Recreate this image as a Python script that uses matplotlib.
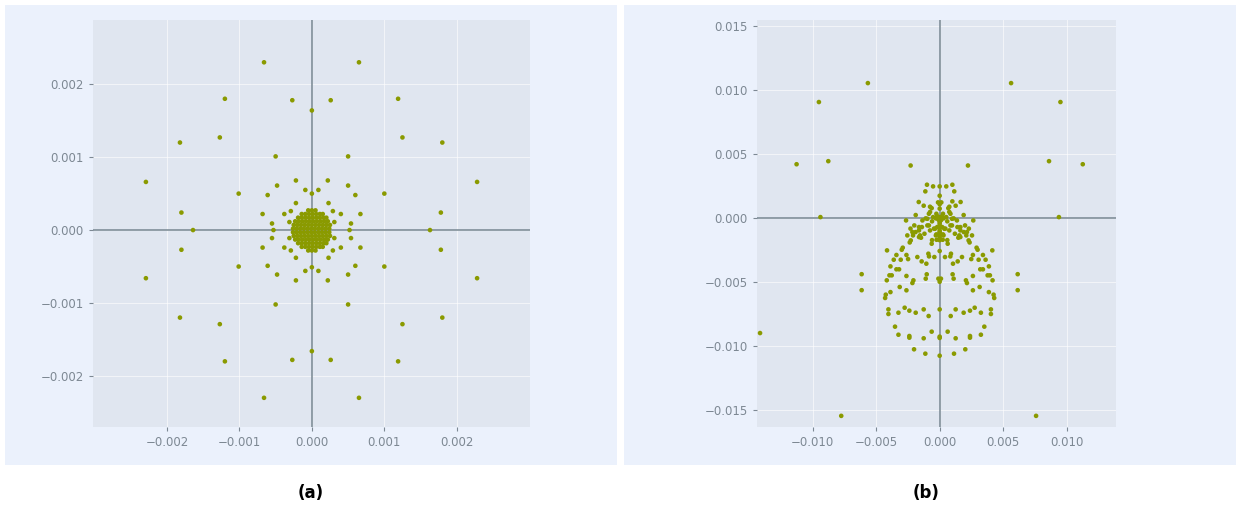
# two scatter panels (a) and (b), in units of 1e-3
import numpy as np
import matplotlib
matplotlib.use('Agg')
import matplotlib.pyplot as plt
from matplotlib.patches import Rectangle
from matplotlib.ticker import FuncFormatter

# ---- panel (a): ring points (x, y) in 1e-3
left_upper = [(-0.66, 2.30), (0.65, 2.30), (-1.20, 1.80), (1.19, 1.80), (-0.27, 1.78), (0.26, 1.78),
              (0.00, 1.64), (-1.27, 1.27), (1.25, 1.27), (-1.82, 1.20), (1.80, 1.20), (-0.50, 1.01),
              (0.50, 1.01), (-2.29, 0.66), (2.28, 0.66), (-0.22, 0.68), (0.22, 0.68), (-0.48, 0.61),
              (0.50, 0.61), (-1.01, 0.50), (1.00, 0.50), (-0.61, 0.48), (0.60, 0.48), (-0.09, 0.55),
              (0.09, 0.55), (0.00, 0.50), (-0.22, 0.37), (0.23, 0.37), (-1.80, 0.24), (1.78, 0.24),
              (-0.68, 0.22), (0.67, 0.22), (-0.38, 0.22), (0.40, 0.22), (-0.29, 0.26), (0.29, 0.26),
              (-0.55, 0.09), (0.54, 0.09), (-0.31, 0.11), (0.31, 0.11)]
left_axis = [(-1.64, 0.00), (1.63, 0.00), (-0.53, 0.00), (0.52, 0.00)]
left_lower = [(-0.66, -2.30), (0.65, -2.30), (-1.20, -1.80), (1.19, -1.80), (-0.27, -1.78), (0.26, -1.78),
              (0.00, -1.66), (-1.27, -1.29), (1.25, -1.29), (-1.82, -1.20), (1.80, -1.20), (-0.50, -1.02),
              (0.50, -1.02), (-2.29, -0.66), (2.28, -0.66), (-0.22, -0.69), (0.22, -0.69), (-0.48, -0.61),
              (0.50, -0.61), (-1.01, -0.50), (1.00, -0.50), (-0.61, -0.49), (0.60, -0.49), (-0.09, -0.56),
              (0.09, -0.56), (0.00, -0.51), (-0.22, -0.38), (0.23, -0.38), (-1.80, -0.27), (1.78, -0.27),
              (-0.68, -0.24), (0.67, -0.24), (-0.38, -0.24), (0.40, -0.24), (-0.29, -0.28), (0.29, -0.28),
              (-0.55, -0.11), (0.54, -0.11), (-0.31, -0.11), (0.31, -0.11)]
# dense core: one list of x per row
core_rows_y = [0.27, 0.22, 0.17, 0.12, 0.07, 0.02, -0.03, -0.08, -0.13, -0.18, -0.23, -0.28]
core_rows_x = [[-0.05, 0.00, 0.05],
               [-0.14, -0.09, -0.04, 0.01, 0.06, 0.11, 0.15],
               [-0.19, -0.14, -0.09, -0.04, 0.01, 0.06, 0.11, 0.16, 0.20],
               [-0.23, -0.18, -0.13, -0.08, -0.03, 0.02, 0.07, 0.12, 0.17, 0.22],
               [-0.25, -0.20, -0.15, -0.10, -0.05, 0.00, 0.05, 0.10, 0.15, 0.20, 0.25],
               [-0.26, -0.21, -0.16, -0.11, -0.06, -0.01, 0.04, 0.09, 0.14, 0.19, 0.24],
               [-0.26, -0.21, -0.16, -0.11, -0.06, -0.01, 0.04, 0.09, 0.14, 0.19, 0.24],
               [-0.25, -0.20, -0.15, -0.10, -0.05, 0.00, 0.05, 0.10, 0.15, 0.20, 0.25],
               [-0.23, -0.18, -0.13, -0.08, -0.03, 0.02, 0.07, 0.12, 0.17, 0.22],
               [-0.19, -0.14, -0.09, -0.04, 0.01, 0.06, 0.11, 0.16, 0.20],
               [-0.14, -0.09, -0.04, 0.01, 0.06, 0.11, 0.15],
               [-0.05, 0.00, 0.05]]

# ---- panel (b): points (x, y) in 1e-3
right_outer = [(-5.66, 10.57), (5.63, 10.57), (-9.52, 9.09), (9.52, 9.09), (-11.28, 4.23), (-8.78, 4.47),
               (-2.29, 4.13), (2.23, 4.13), (8.62, 4.47), (11.28, 4.23), (-9.40, 0.10), (9.40, 0.10),
               (-14.16, -8.96), (-7.76, -15.43), (7.60, -15.43), (-6.15, -4.36), (-6.15, -5.61),
               (6.15, -4.36), (6.15, -5.61)]
right_body = [(-1.00, 2.63), (-0.52, 2.50), (0.00, 2.50), (0.52, 2.50), (1.00, 2.63), (-1.13, 2.11),
              (1.15, 2.11), (0.00, 1.77), (-0.13, 1.25), (0.13, 1.25), (-1.65, 1.28), (1.65, 1.28),
              (-1.26, 0.99), (1.26, 0.99), (-0.76, 0.91), (0.76, 0.91), (0.00, 0.76), (-0.76, 0.50),
              (0.76, 0.50), (-1.89, 0.26), (1.89, 0.26), (-0.26, 0.36), (0.26, 0.36), (-2.65, -0.16),
              (2.65, -0.16), (-1.36, -0.16), (1.36, -0.16), (-0.97, -0.03), (0.97, -0.03), (-0.52, 0.10),
              (0.52, 0.10), (0.00, 0.10), (0.00, -0.29), (-2.00, -0.55), (2.00, -0.55), (-1.63, -0.68),
              (1.63, -0.68), (-0.97, -0.55), (0.97, -0.55), (-0.76, -0.94), (0.76, -0.94), (-0.37, -0.81),
              (0.37, -0.81), (0.00, -0.68), (0.00, -1.07), (0.00, -1.46), (-0.26, -1.25), (0.26, -1.25),
              (-0.24, -1.67), (0.24, -1.67), (-2.15, -1.07), (2.15, -1.07), (-2.10, -1.33), (2.10, -1.33),
              (-1.55, -1.33), (1.55, -1.33), (-1.47, -1.51), (1.47, -1.51), (-2.28, -1.72), (2.28, -1.72),
              (-2.36, -1.88), (2.36, -1.88), (-0.63, -1.98), (0.63, -1.98), (0.00, -2.55), (-2.91, -2.29),
              (2.91, -2.29), (-2.99, -2.45), (2.99, -2.45), (-4.15, -2.50), (4.15, -2.50), (-3.41, -2.86),
              (3.41, -2.86), (-2.62, -2.86), (2.62, -2.86), (-1.76, -3.02), (1.76, -3.02), (-0.89, -2.76),
              (0.89, -2.76), (-0.84, -2.97), (0.84, -2.97), (-0.42, -3.02), (0.42, -3.02), (-3.62, -3.23),
              (3.62, -3.23), (-3.07, -3.23), (3.07, -3.23), (-2.49, -3.18), (2.49, -3.18), (-1.42, -3.36),
              (1.42, -3.36), (-1.05, -3.54), (1.05, -3.54), (-3.88, -3.75), (3.88, -3.75), (-3.41, -3.98),
              (3.41, -3.98), (-3.20, -3.98), (3.20, -3.98), (-3.96, -4.45), (3.96, -4.45), (-3.78, -4.45),
              (3.78, -4.45), (-2.62, -4.50), (2.62, -4.50), (-1.02, -4.37), (1.02, -4.37), (-1.10, -4.71),
              (1.10, -4.71), (-0.10, -4.71), (0.10, -4.71), (0.00, -4.95), (-4.17, -4.84), (4.17, -4.84),
              (-2.15, -5.05), (2.15, -5.05), (-2.07, -4.84), (2.07, -4.84), (-3.15, -5.36), (3.15, -5.36),
              (-2.62, -5.62), (2.62, -5.62), (-3.88, -5.76), (3.88, -5.76), (-4.25, -5.96), (4.25, -5.96),
              (-4.30, -6.22), (4.30, -6.22), (-2.76, -6.98), (2.76, -6.98), (-4.04, -7.11), (4.04, -7.11),
              (-4.04, -7.47), (4.04, -7.47), (-3.25, -7.37), (3.25, -7.37), (-2.39, -7.21), (2.39, -7.21),
              (-1.89, -7.37), (1.89, -7.37), (-1.26, -7.11), (1.26, -7.11), (-0.87, -7.63), (0.87, -7.63),
              (0.00, -7.11), (-3.52, -8.46), (3.52, -8.46), (-3.25, -9.09), (3.25, -9.09), (-2.39, -9.19),
              (2.39, -9.19), (-2.39, -9.32), (2.39, -9.32), (-1.26, -9.37), (1.26, -9.37), (-0.63, -8.85),
              (0.63, -8.85), (0.00, -9.24), (0.00, -9.34), (-2.02, -10.23), (2.02, -10.23), (-1.13, -10.57),
              (1.13, -10.57), (0.00, -10.73)]
right_core = [(0.00, 1.10), (-0.63, 0.80), (0.68, 0.80), (1.00, 1.33), (-0.85, 0.36), (0.85, 0.36),
              (-0.20, 0.18), (0.20, 0.18), (-0.30, 0.00), (0.30, 0.00), (0.00, 0.00), (-0.60, -0.23),
              (0.60, -0.23), (-1.10, 0.00), (1.10, 0.00), (0.00, -0.42), (-0.20, -0.68), (0.20, -0.68),
              (0.00, -0.94), (0.00, -1.28), (-0.85, -0.55), (0.85, -0.55), (-0.45, -0.80), (0.45, -0.80),
              (-1.40, -0.68), (1.40, -0.68), (-1.63, -0.94), (1.63, -0.94), (-1.20, -1.20), (1.20, -1.20),
              (-0.30, -1.33), (0.30, -1.33), (-2.30, -0.80), (2.30, -0.80), (-1.90, -1.07), (1.90, -1.07),
              (-1.63, -1.46), (1.63, -1.46), (-2.55, -1.33), (2.55, -1.33), (0.00, -1.70), (-0.60, -1.70),
              (0.60, -1.70), (-0.10, -0.10), (0.10, -0.15), (0.00, -0.60), (0.00, -1.15)]

left_ticks = [-0.002, -0.001, 0.0, 0.001, 0.002]
right_ticks = [-0.015, -0.010, -0.005, 0.0, 0.005, 0.010, 0.015]
captions = ['(a)', '(b)']

dot = '#8a9a00'
face = '#e0e6f0'
panel = '#ebf1fc'
tickc = '#7d8893'
fmt = FuncFormatter(lambda v, p: ('%.3f' % v).replace('-', '\u2212') if abs(v) > 1e-12 else '0.000')

fig = plt.figure(figsize=(12.38, 5.13), dpi=100)
fig.patch.set_facecolor('white')
for x0 in (5 / 1238, 624 / 1238):
    fig.patches.append(Rectangle((x0, 1 - 465 / 513), 612 / 1238, 460 / 513,
                                 transform=fig.transFigure, facecolor=panel, edgecolor='none', zorder=-10))

axl = fig.add_axes([93 / 1238, 1 - 427 / 513, 437 / 1238, 407 / 513])
axr = fig.add_axes([757 / 1238, 1 - 427 / 513, 359 / 1238, 407 / 513])


def style(ax, ticks):
    ax.set_facecolor(face)
    for s in ax.spines.values():
        s.set_visible(False)
    ax.set_xticks([t for t in ticks if abs(t) < 0.013 or ax is axl])
    ax.set_yticks(ticks)
    ax.xaxis.set_major_formatter(fmt)
    ax.yaxis.set_major_formatter(fmt)
    ax.grid(True, color='white', lw=0.8, alpha=0.6)
    ax.set_axisbelow(True)
    ax.tick_params(colors=tickc, labelsize=8.5, length=3, width=0.8)
    ax.axhline(0, color='#7f8e99', lw=1.2, zorder=1)
    ax.axvline(0, color='#7f8e99', lw=1.2, zorder=1)


style(axl, left_ticks)
style(axr, right_ticks)

# panel (a)
pts = np.array(left_upper + left_axis + left_lower) * 1e-3
axl.scatter(pts[:, 0], pts[:, 1], s=11, color=dot, edgecolors='none', zorder=3)
for yv, xs in zip(core_rows_y, core_rows_x):
    axl.scatter(np.array(xs) * 1e-3, np.full(len(xs), yv * 1e-3), s=11, color=dot, edgecolors='none', zorder=3)
axl.set_xlim(-0.00302, 0.00301)
axl.set_ylim(-0.0027, 0.00288)

# panel (b)
pts = np.array(right_outer + right_body + right_core) * 1e-3
axr.scatter(pts[:, 0], pts[:, 1], s=11, color=dot, edgecolors='none', zorder=3)
axr.set_xlim(-0.0144, 0.0139)
axr.set_ylim(-0.0163, 0.0155)

fig.text(311 / 1238, 1 - 493 / 513, captions[0], ha='center', va='center', fontsize=12, fontweight='bold')
fig.text(926 / 1238, 1 - 493 / 513, captions[1], ha='center', va='center', fontsize=12, fontweight='bold')

plt.savefig('out.png', dpi=100)
